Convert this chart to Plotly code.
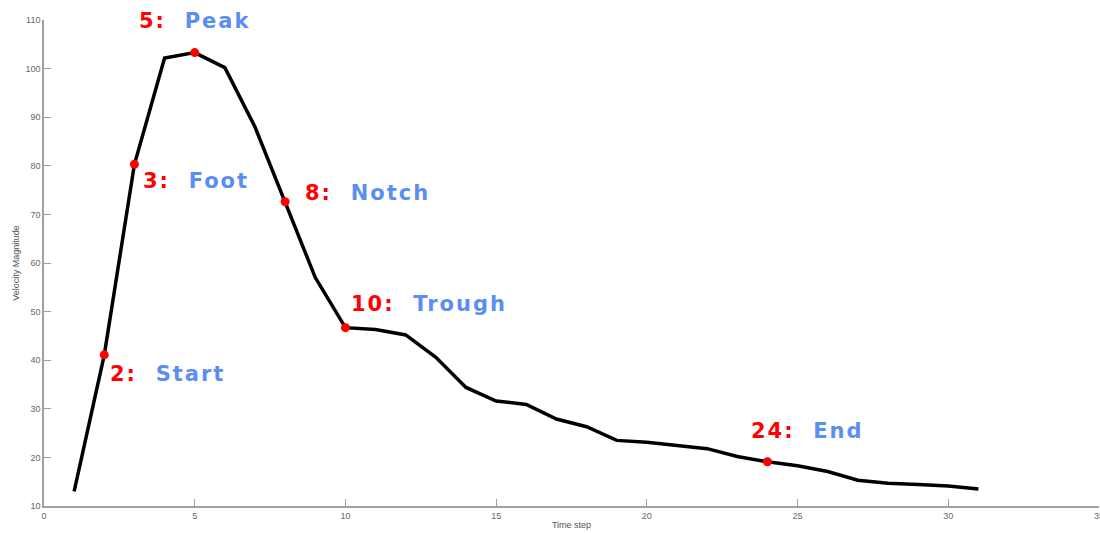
import plotly.graph_objects as go

# Velocity magnitude per time step
time_step = list(range(1, 32))
velocity = [13.0, 41.1, 80.3, 102.2, 103.3, 100.2, 88.0, 72.6, 57.0, 46.7,
            46.3, 45.2, 40.6, 34.4, 31.6, 30.9, 27.9, 26.3, 23.5, 23.1,
            22.5, 21.8, 20.2, 19.1, 18.3, 17.1, 15.3, 14.7, 14.4, 14.1, 13.5]

# Key points of the waveform (time step, name)
key_steps = [2, 3, 5, 8, 10, 24]
key_names = ["Start", "Foot", "Peak", "Notch", "Trough", "End"]
# label offsets from each key point, in pixels
label_dx = [4, 7, -58, 18, 4, -18]
label_dy = [-19, -17, 32, 9, 24, 31]

key_vals = [velocity[time_step.index(s)] for s in key_steps]

fig = go.Figure()
fig.add_trace(go.Scatter(
    x=time_step, y=velocity, mode="lines",
    line=dict(color="black", width=3.5),
    hoverinfo="skip", showlegend=False,
))
fig.add_trace(go.Scatter(
    x=key_steps, y=key_vals, mode="markers",
    marker=dict(color="#ff0000", size=9),
    showlegend=False, cliponaxis=False,
))

label_font = dict(family="'DejaVu Sans', sans-serif", size=21, weight="bold")
for s, n, v, dx, dy in zip(key_steps, key_names, key_vals, label_dx, label_dy):
    fig.add_annotation(
        x=s, y=v, xref="x", yref="y", showarrow=False,
        xanchor="left", yanchor="middle", xshift=dx, yshift=dy,
        text=(f"<span style='letter-spacing:2px'><span style='color:#ff0000'>{s}:</span>"
              f"&nbsp; <span style='color:#5b8ef2'>{n}</span></span>"),
        font=label_font,
    )

axis_common = dict(
    showgrid=False, zeroline=False, showline=True,
    linecolor="#a0a0a0", linewidth=1.5,
    ticks="inside", ticklen=7, tickwidth=1, tickcolor="#a0a0a0",
    ticklabeloverflow="allow", automargin=False,
    tickfont=dict(family="Liberation Sans, Arial, sans-serif", size=9, color="#666666"),
    title_font=dict(family="Liberation Sans, Arial, sans-serif", size=9, color="#555555"),
)

fig.update_xaxes(range=[0, 35], tick0=0, dtick=5, title_text="Time step",
                 title_standoff=2, **axis_common)
fig.update_yaxes(range=[10, 110], tick0=10, dtick=10, title_text="Velocity Magnitude",
                 title_standoff=4, **axis_common)

fig.update_layout(
    width=1100, height=533,
    margin=dict(l=44, r=1, t=20, b=27),
    plot_bgcolor="white", paper_bgcolor="white",
)

fig.write_html("out.html")
